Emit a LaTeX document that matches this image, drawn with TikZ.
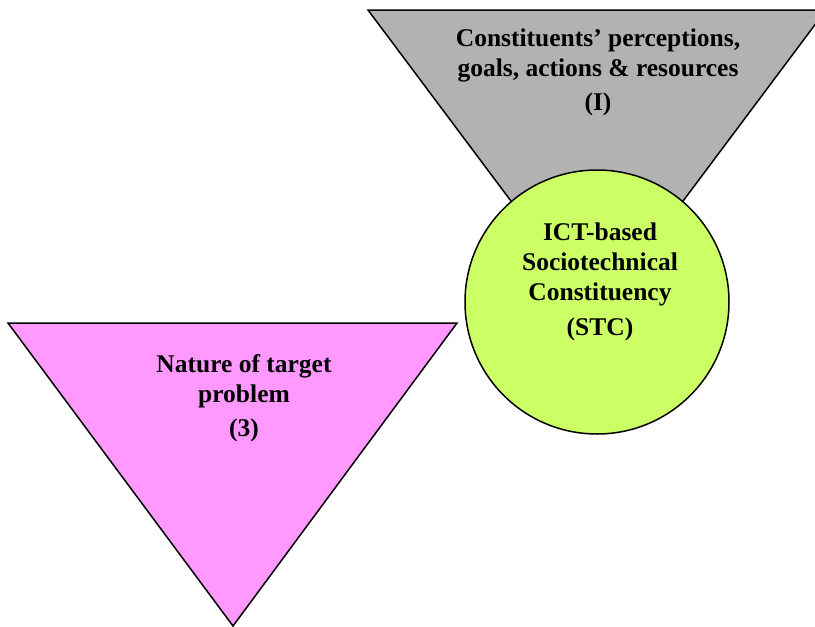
\documentclass[tikz,border=0pt]{standalone}
\usepackage{fontspec}
\setmainfont{Liberation Serif}
\definecolor{ctgray}{RGB}{178,178,178}
\definecolor{stcgreen}{RGB}{204,255,102}
\definecolor{probpink}{RGB}{255,153,255}

\begin{document}
\begin{tikzpicture}[x=1pt,y=-1pt]
  \tikzset{outline/.style = {draw=black,line width=1.5pt,line join=miter}}
  \tikzset{blocktext/.style = {align=center,inner sep=0pt,anchor=base,font=\fontsize{25.5}{30}\selectfont\bfseries}}
	\useasboundingbox (0,0) rectangle (815,627);
	\clip (0,0) rectangle (815,627);

	% constituents triangle
	\coordinate (g1) at (368,10);
	\coordinate (g2) at (826,10);
	\coordinate (g3) at (597,316);
	\filldraw[outline,fill=ctgray] (g1) -- (g2) -- (g3) -- cycle;

	% STC circle
	\node[outline,circle,fill=stcgreen,minimum size=264pt,inner sep=0pt] (stc) at (597,302) {};

	% problem triangle
	\coordinate (p1) at (8,323);
	\coordinate (p2) at (457,323);
	\coordinate (p3) at (233,626);
	\filldraw[outline,fill=probpink] (p1) -- (p2) -- (p3) -- cycle;

	\node[blocktext] (ct) at (598,110) {Constituents’ perceptions,\\ goals, actions \& resources\\[4pt] (I)};
	\node[blocktext] (stctext) at (600,335) {ICT-based\\ Sociotechnical\\ Constituency\\[5pt] (STC)};
	\node[blocktext] (np) at (244,436) {Nature of target\\ problem\\[4pt] (3)};
\end{tikzpicture}
\end{document}
